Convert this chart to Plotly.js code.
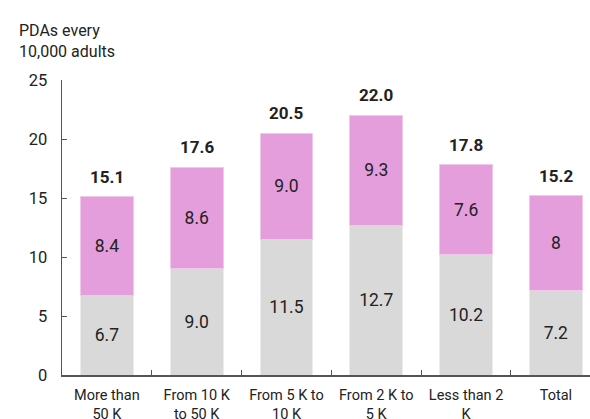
<!DOCTYPE html>
<html>
<head>
<meta charset="utf-8">
<script src="https://cdn.plot.ly/plotly-3.0.1.min.js"></script>
<style>
  html, body { margin: 0; padding: 0; background: #fff; }
  #chart { width: 590px; height: 419px; }
</style>
</head>
<body>
<div id="chart"></div>
<script>
// Municipality size classes
const categories = ["More than<br>50 K", "From 10 K<br>to 50 K", "From 5 K to<br>10 K",
                    "From 2 K to<br>5 K", "Less than 2<br>K", "Total"];
// Lower (grey) segment
const baseValues = [6.7, 9.0, 11.5, 12.7, 10.2, 7.2];
const baseLabels = ["6.7", "9.0", "11.5", "12.7", "10.2", "7.2"];
// Upper (pink) segment
const topValues = [8.4, 8.6, 9.0, 9.3, 7.6, 8];
const topLabels = ["8.4", "8.6", "9.0", "9.3", "7.6", "8"];
// Bar totals shown above each stack
const totals = [15.1, 17.6, 20.5, 22.0, 17.8, 15.2];
const yTicks = [0, 5, 10, 15, 20, 25];

const FONT = "Roboto, 'Noto Sans', 'DejaVu Sans', sans-serif";
const TEXT = "#222222";

const traces = [
  {
    type: "bar",
    x: categories,
    y: baseValues,
    text: baseLabels,
    texttemplate: "%{text}",
    textposition: "inside",
    insidetextanchor: "middle",
    textangle: 0,
    textfont: { family: FONT, size: 17.5, color: TEXT },
    marker: { color: "#d9d9d9", line: { color: "#ececec", width: 1 } },
    width: 0.59,
    hoverinfo: "skip"
  },
  {
    type: "bar",
    x: categories,
    y: topValues,
    text: topLabels,
    texttemplate: "%{text}",
    textposition: "inside",
    insidetextanchor: "middle",
    textangle: 0,
    textfont: { family: FONT, size: 17.5, color: TEXT },
    marker: { color: "#e49edb", line: { color: "#f0c8ea", width: 1 } },
    width: 0.59,
    hoverinfo: "skip"
  }
];

const annotations = categories.map((c, i) => ({
  x: c,
  y: totals[i],
  xref: "x",
  yref: "y",
  text: "<b>" + totals[i].toFixed(1) + "</b>",
  showarrow: false,
  yanchor: "bottom",
  yshift: 8,
  font: { family: FONT, size: 17, color: TEXT }
}));

annotations.push({
  xref: "paper",
  yref: "paper",
  x: 0,
  y: 1,
  xanchor: "left",
  yanchor: "bottom",
  xshift: -45,
  yshift: 17,
  align: "left",
  showarrow: false,
  text: "PDAs every<br>10,000 adults",
  font: { family: FONT, size: 16, color: TEXT }
});

const layout = {
  width: 590,
  height: 419,
  margin: { l: 62, r: 0, t: 80, b: 44 },
  paper_bgcolor: "#ffffff",
  plot_bgcolor: "#ffffff",
  barmode: "stack",
  showlegend: false,
  font: { family: FONT, color: TEXT },
  xaxis: {
    type: "category",
    range: [-0.5, 5.38],
    showline: true,
    linecolor: "#555555",
    linewidth: 1.5,
    ticks: "inside",
    tickson: "boundaries",
    ticklen: 5,
    tickcolor: "#555555",
    showgrid: false,
    zeroline: false,
    ticklabelstandoff: 6,
    tickfont: { family: FONT, size: 14.5, color: TEXT },
    fixedrange: true
  },
  yaxis: {
    range: [0, 25],
    tickvals: yTicks,
    ticktext: yTicks.map(String),
    showline: true,
    linecolor: "#555555",
    linewidth: 1.5,
    ticks: "inside",
    ticklen: 5,
    tickcolor: "#555555",
    showgrid: false,
    zeroline: false,
    ticklabelstandoff: 10,
    tickfont: { family: FONT, size: 16.5, color: TEXT },
    fixedrange: true
  },
  annotations: annotations
};

Plotly.newPlot("chart", traces, layout, { displayModeBar: false, staticPlot: true });
</script>
</body>
</html>
